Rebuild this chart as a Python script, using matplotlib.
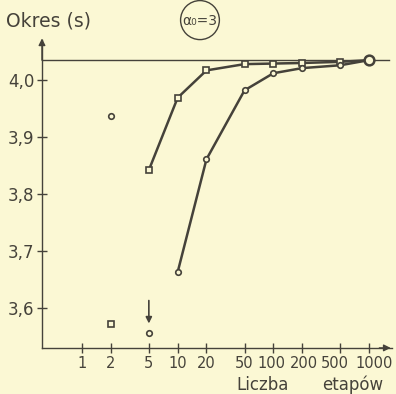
import matplotlib.pyplot as plt
import matplotlib.transforms as mtransforms
from matplotlib.patches import Ellipse

plt.rcParams['font.family'] = ['DejaVu Sans']

etapy = [5, 10, 20, 50, 100, 200, 500, 1000]
okres_a = [3.842, 3.969, 4.017, 4.028, 4.029, 4.030, 4.032, 4.035]
etapy_b = [10, 20, 50, 100, 200, 500, 1000]
okres_b = [3.663, 3.861, 3.982, 4.012, 4.021, 4.026, 4.035]
osobne_x = [2, 2, 5]
osobne_y = [3.937, 3.572, 3.556]
osobne_m = ['o', 's', 'o']
granica = 4.035

xticks = [1, 2, 5, 10, 20, 50, 100, 200, 500, 1000]
yticks = [3.6, 3.7, 3.8, 3.9, 4.0]
ytick_labels = ['3,6', '3,7', '3,8', '3,9', '4,0']

ink = '#45423a'
bg = '#fbf8d4'

fig = plt.figure(figsize=(3.96, 3.94), dpi=100, facecolor=bg)
ax = fig.add_axes([0.106, 0.117, 0.884, 0.781], facecolor=bg)
ax.set_xscale('log')
ax.set_xlim(0.382, 1740)
ax.set_ylim(3.530, 4.070)

ax.axhline(granica, color=ink, lw=1.0, xmax=0.99)
ax.plot(etapy, okres_a, color=ink, lw=1.8, marker='s', ms=4, mfc=bg, mec=ink, mew=1.2)
ax.plot(etapy_b, okres_b, color=ink, lw=1.8, marker='o', ms=4, mfc=bg, mec=ink, mew=1.2)
ax.plot([1000], [granica], marker='o', ms=7, mfc=bg, mec=ink, mew=1.8)
for x, y, m in zip(osobne_x, osobne_y, osobne_m):
    ax.plot([x], [y], marker=m, ms=4, mfc=bg, mec=ink, mew=1.2, ls='none')

# strzalka nad punktem 5
ax.annotate('', xy=(5, 3.568), xytext=(5, 3.618),
            arrowprops=dict(arrowstyle='-|>', color=ink, lw=1.2, mutation_scale=9))

for s in ['top', 'right']:
    ax.spines[s].set_visible(False)
for s in ['left', 'bottom']:
    ax.spines[s].set_color(ink)
    ax.spines[s].set_linewidth(1.0)

ax.set_xticks(xticks)
ax.set_xticklabels([str(t) for t in xticks])
ax.minorticks_off()
ax.set_yticks(yticks)
ax.set_yticklabels(ytick_labels)
ax.tick_params(direction='inout', length=7, width=1.0, color=ink, labelcolor=ink)
ax.tick_params(axis='x', pad=2, labelsize=10.5)
ax.tick_params(axis='y', pad=2, labelsize=12)

# etykiety 100..1000 stloczone jak w oryginale
przesun = {'100': -1.5, '200': 1.5, '500': -5, '1000': 5}
for lab in ax.get_xticklabels():
    dx = przesun.get(lab.get_text(), 0)
    if dx:
        lab.set_transform(lab.get_transform() +
                          mtransforms.ScaledTranslation(dx / 100, 0, fig.dpi_scale_trans))

# strzalki osi
ax.annotate('', xy=(0.382, 4.078), xytext=(0.382, 4.03), annotation_clip=False,
            arrowprops=dict(arrowstyle='-|>', color=ink, lw=1.0, mutation_scale=10))
ax.annotate('', xy=(1800, 3.530), xytext=(1200, 3.530), annotation_clip=False,
            arrowprops=dict(arrowstyle='-|>', color=ink, lw=1.0, mutation_scale=10))

fig.text(0.015, 0.9315, 'Okres (s)', color=ink, fontsize=13.5, va='baseline', ha='left')
fig.text(0.596, 0.0102, 'Liczba', color=ink, fontsize=12, va='baseline', ha='left')
fig.text(0.967, 0.0102, 'etapów', color=ink, fontsize=12, va='baseline', ha='right')

fig.patches.append(Ellipse((0.505, 0.949), 0.098, 0.099, transform=fig.transFigure,
                           fill=False, ec=ink, lw=1.0))
fig.text(0.505, 0.947, 'α₀=3', color=ink, fontsize=10, va='center', ha='center')

fig.savefig('out.png', dpi=100, facecolor=bg)
